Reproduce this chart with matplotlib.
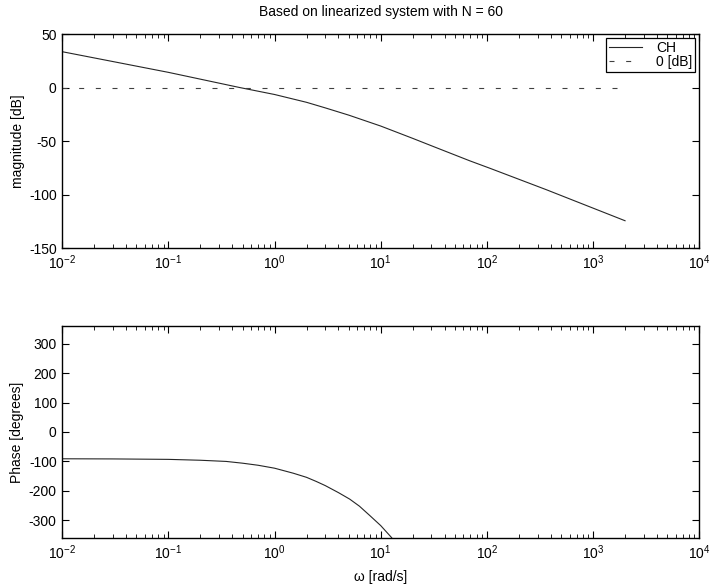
import matplotlib
matplotlib.use("Agg")
import matplotlib.pyplot as plt
from matplotlib.ticker import LogLocator, NullFormatter

plt.rcParams['font.family'] = ['Liberation Sans', 'DejaVu Sans']
plt.rcParams['mathtext.default'] = 'regular'
plt.rcParams['axes.unicode_minus'] = False
plt.rcParams['font.size'] = 10

# magnitude of the loop transfer function (CH)
w_mag = [0.01, 0.03, 0.1, 0.47, 1.0, 2.0, 3.0, 5.0, 10, 20, 32, 69, 107, 363, 2000]
mag_db = [33.5, 24.3, 14.2, 0.0, -6.5, -13.8, -19.0, -25.8, -36.0, -47.5, -55.5,
          -68.5, -75.5, -95.5, -124.5]

# reference 0 dB line
w_zero = [0.01, 2000]
zero_db = [0, 0]

# phase of CH
w_ph = [0.01, 0.03, 0.1, 0.2, 0.35, 0.5, 0.7, 1.0, 1.5, 2.0, 2.47, 3.0, 4.0, 5.1,
        6.3, 7.9, 10, 12.6, 13.2]
phase_deg = [-91, -91.5, -93, -96, -100, -106, -113, -123, -140, -154, -168, -182,
             -206, -228, -252, -284, -318, -358, -368]

decades = [1e-2, 1e-1, 1e0, 1e1, 1e2, 1e3, 1e4]

fig = plt.figure(figsize=(7.15, 5.84), dpi=100)
ax1 = fig.add_axes([0.087, 0.5753, 0.891, 0.3664])
ax2 = fig.add_axes([0.087, 0.0788, 0.891, 0.3630])

ax1.semilogx(w_mag, mag_db, color='0.15', lw=0.8, label='CH')
ax1.semilogx(w_zero, zero_db, color='0.25', lw=0.8, ls=(0, (4.5, 10.5)), label='0 [dB]')
ax1.set_ylim(-150, 50)
ax1.set_yticks([-150, -100, -50, 0, 50])
ax1.set_ylabel('magnitude [dB]', labelpad=3)
ax1.set_title('Based on linearized system with N = 60', fontsize=10, pad=13)
leg = ax1.legend(loc='upper right', fancybox=False, edgecolor='black',
                 framealpha=1, handlelength=2.4, borderpad=0.2,
                 labelspacing=0.0, borderaxespad=0.3, handletextpad=1.0,
                 fontsize=10)
leg.get_frame().set_linewidth(0.9)

ax2.semilogx(w_ph, phase_deg, color='0.15', lw=0.8)
ax2.set_ylim(-360, 360)
ax2.set_yticks([-300, -200, -100, 0, 100, 200, 300])
ax2.set_ylabel('Phase [degrees]', labelpad=3)
ax2.set_xlabel('ω [rad/s]', labelpad=6)

for ax in (ax1, ax2):
    ax.set_xticks(decades)
    ax.xaxis.set_minor_locator(LogLocator(base=10, subs=range(2, 10), numticks=10))
    ax.xaxis.set_minor_formatter(NullFormatter())
    ax.set_xlim(1e-2, 1e4)
    ax.tick_params(which='both', direction='in', top=True, right=True)
    ax.tick_params(which='major', length=5, width=0.8, pad=4)
    ax.tick_params(which='minor', length=3, width=0.6)
    for s in ax.spines.values():
        s.set_linewidth(1.0)

fig.savefig('out.png', dpi=100)
